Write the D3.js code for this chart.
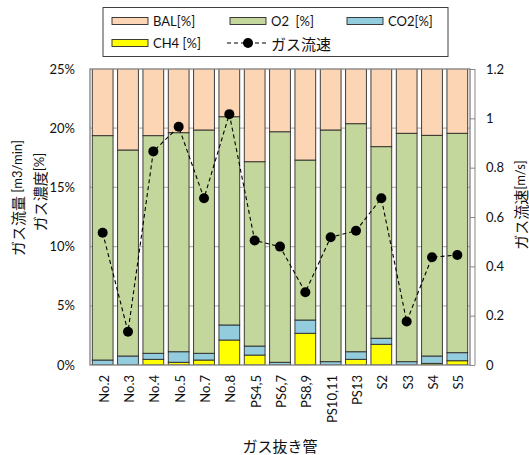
<!DOCTYPE html>
<html>
<head>
<meta charset="utf-8">
<script src="https://cdn.jsdelivr.net/npm/d3@7/dist/d3.min.js"></script>
<style>
  html, body { margin: 0; padding: 0; background: #fff; }
  svg { display: block; }
  text { white-space: pre; }
</style>
</head>
<body>
<svg id="chart" width="529" height="455"></svg>
<script>
// Gas extraction pipes and measured composition / flow velocity
const categories = ["No.2","No.3","No.4","No.5","No.7","No.8","PS4,5","PS6,7","PS8,9","PS10,11","PS13","S2","S3","S4","S5"];
const ch4 = [0, 0, 0.48, 0.23, 0.42, 2.11, 0.84, 0, 2.68, 0, 0.48, 1.75, 0, 0.14, 0.36];
const co2 = [0.42, 0.76, 0.51, 0.89, 0.57, 1.27, 0.76, 0.23, 1.12, 0.28, 0.64, 0.51, 0.28, 0.62, 0.68];
const o2  = [18.95, 17.40, 18.38, 18.50, 18.86, 17.59, 15.57, 19.47, 13.51, 19.57, 19.26, 16.18, 19.29, 18.64, 18.53];
const bal = [80.63, 81.84, 80.63, 80.38, 80.15, 79.03, 82.83, 80.30, 82.69, 80.15, 79.62, 81.56, 80.43, 80.60, 80.43];
const flow = [0.536, 0.135, 0.866, 0.966, 0.676, 1.017, 0.505, 0.48, 0.295, 0.518, 0.544, 0.676, 0.176, 0.437, 0.446];

const leftTicks = [0, 5, 10, 15, 20, 25];
const rightTicks = [0, 0.2, 0.4, 0.6, 0.8, 1, 1.2];

const seriesKeys = ["CH4", "CO2", "O2", "BAL"];
const seriesNames = { BAL: "BAL[%]", O2: "O2  [%]", CO2: "CO2[%]", CH4: "CH4 [%]" };
const seriesColors = { BAL: "#fcd5b5", O2: "#c3d69b", CO2: "#93cddd", CH4: "#ffff00" };

const rows = categories.map((c, i) => ({ cat: c, CH4: ch4[i], CO2: co2[i], O2: o2[i], BAL: bal[i] }));

const svg = d3.select("#chart");
const latin = "Lato, 'Noto Sans', sans-serif";
const cjk = "'Noto Sans CJK JP', sans-serif";
const ink = "#111";

const plot = { left: 90, right: 470, top: 69, bottom: 365 };

const x = d3.scaleBand().domain(categories)
  .range([plot.left, plot.right]).paddingInner(0.18).paddingOuter(0.09);
const yL = d3.scaleLinear().domain([0, 25]).range([plot.bottom, plot.top]);
const yR = d3.scaleLinear().domain([0, 1.2]).range([plot.bottom, plot.top]);

// write text with CJK runs in a slightly larger CJK face
function richText(sel, str, latinSize, cjkSize) {
  const runs = str.match(/[\u3000-\u9fff\uff00-\uffef]+|[^\u3000-\u9fff\uff00-\uffef]+/g) || [];
  runs.forEach(r => {
    const isCjk = /[\u3000-\u9fff\uff00-\uffef]/.test(r);
    sel.append("tspan")
      .attr("font-family", isCjk ? cjk : latin)
      .attr("font-size", isCjk ? cjkSize : latinSize)
      .text(r);
  });
  return sel;
}

svg.append("defs").append("clipPath").attr("id", "plotClip")
  .append("rect").attr("x", plot.left).attr("y", plot.top)
  .attr("width", plot.right - plot.left).attr("height", plot.bottom - plot.top);

// gridlines
svg.append("g").selectAll("line").data(leftTicks.slice(1, -1)).join("line")
  .attr("x1", plot.left).attr("x2", plot.right)
  .attr("y1", d => yL(d)).attr("y2", d => yL(d))
  .attr("stroke", "#b8b8b8").attr("stroke-width", 1.2);

// stacked bars
const stack = d3.stack().keys(seriesKeys)(rows);
svg.append("g").attr("clip-path", "url(#plotClip)")
  .selectAll("g").data(stack).join("g")
  .attr("fill", d => seriesColors[d.key])
  .selectAll("rect").data(d => d).join("rect")
  .attr("x", d => x(d.data.cat))
  .attr("width", x.bandwidth())
  .attr("y", d => yL(d[1]))
  .attr("height", d => yL(d[0]) - yL(d[1]))
  .attr("stroke", "#2b2b2b").attr("stroke-width", 0.9);

// plot border
svg.append("rect").attr("x", plot.left).attr("y", plot.top)
  .attr("width", plot.right - plot.left).attr("height", plot.bottom - plot.top)
  .attr("fill", "none").attr("stroke", "#808080").attr("stroke-width", 1.3);

// flow velocity line
const line = d3.line().x((d, i) => x(categories[i]) + x.bandwidth() / 2).y(d => yR(d));
svg.append("path").datum(flow).attr("d", line)
  .attr("fill", "none").attr("stroke", "#000").attr("stroke-width", 1.1)
  .attr("stroke-dasharray", "4,3");
svg.append("g").selectAll("circle").data(flow).join("circle")
  .attr("cx", (d, i) => x(categories[i]) + x.bandwidth() / 2)
  .attr("cy", d => yR(d)).attr("r", 5).attr("fill", "#000");

// left axis labels
const leftAxis = d3.axisLeft(yL).tickValues(leftTicks).tickSize(0).tickPadding(15)
  .tickFormat(d => d + "%");
const gl = svg.append("g").attr("transform", `translate(${plot.left},0)`).call(leftAxis);
gl.select(".domain").remove();
gl.selectAll("text").attr("font-family", latin).attr("font-size", 13).attr("fill", ink);

// right axis
const rightAxis = d3.axisRight(yR).tickValues(rightTicks).tickSize(5).tickPadding(11)
  .tickFormat(d => d === 0 ? "0" : d3.format("~g")(d));
const gr = svg.append("g").attr("transform", `translate(${plot.right},0)`).call(rightAxis);
gr.select(".domain").attr("stroke", "#868686").attr("d", `M5,${plot.top}V${plot.bottom}`);
gr.selectAll(".tick line").attr("stroke", "#868686");
gr.selectAll("text").attr("font-family", latin).attr("font-size", 13).attr("fill", ink);

// category labels
svg.append("g").selectAll("text").data(categories).join("text")
  .attr("transform", d => `translate(${x(d) + x.bandwidth() / 2 + 1},375) rotate(-90)`)
  .attr("text-anchor", "end").attr("dominant-baseline", "central")
  .attr("font-family", latin).attr("font-size", 13).attr("fill", ink)
  .text(d => d);

// axis titles
richText(svg.append("text").attr("transform", "translate(17,198) rotate(-90)")
  .attr("text-anchor", "middle").attr("dominant-baseline", "central").attr("fill", ink),
  "ガス流量 [m3/min]", 13, 15);
richText(svg.append("text").attr("transform", "translate(39,192) rotate(-90)")
  .attr("text-anchor", "middle").attr("dominant-baseline", "central").attr("fill", ink),
  "ガス濃度[%]", 13, 15);
richText(svg.append("text").attr("transform", "translate(520,205) rotate(-90)")
  .attr("text-anchor", "middle").attr("dominant-baseline", "central").attr("fill", ink),
  "ガス流速[m/s]", 13, 15);
richText(svg.append("text").attr("x", (plot.left + plot.right) / 2).attr("y", 445)
  .attr("text-anchor", "middle").attr("dominant-baseline", "central").attr("fill", ink),
  "ガス抜き管", 13, 15);

// legend
const legend = svg.append("g");
legend.append("rect").attr("x", 103).attr("y", 7.5).attr("width", 345).attr("height", 49)
  .attr("fill", "#fff").attr("stroke", "#404040").attr("stroke-width", 1);
const legendItems = [
  { key: "BAL", x: 112, y: 21 },
  { key: "O2", x: 230, y: 21 },
  { key: "CO2", x: 347, y: 21 },
  { key: "CH4", x: 112, y: 43 }
];
legendItems.forEach(it => {
  legend.append("rect").attr("x", it.x).attr("y", it.y - 3.5).attr("width", 36).attr("height", 7)
    .attr("fill", seriesColors[it.key]).attr("stroke", "#2b2b2b").attr("stroke-width", 0.9);
  legend.append("text").attr("x", it.x + 41).attr("y", it.y)
    .attr("dominant-baseline", "central").attr("font-family", latin).attr("font-size", 13)
    .attr("fill", ink).text(seriesNames[it.key]);
});
legend.append("line").attr("x1", 227).attr("x2", 266).attr("y1", 43).attr("y2", 43)
  .attr("stroke", "#000").attr("stroke-width", 1.1).attr("stroke-dasharray", "4,3");
legend.append("circle").attr("cx", 248).attr("cy", 43).attr("r", 5).attr("fill", "#000");
richText(legend.append("text").attr("x", 271).attr("y", 43)
  .attr("dominant-baseline", "central").attr("fill", ink), "ガス流速", 13, 15);
</script>
</body>
</html>
